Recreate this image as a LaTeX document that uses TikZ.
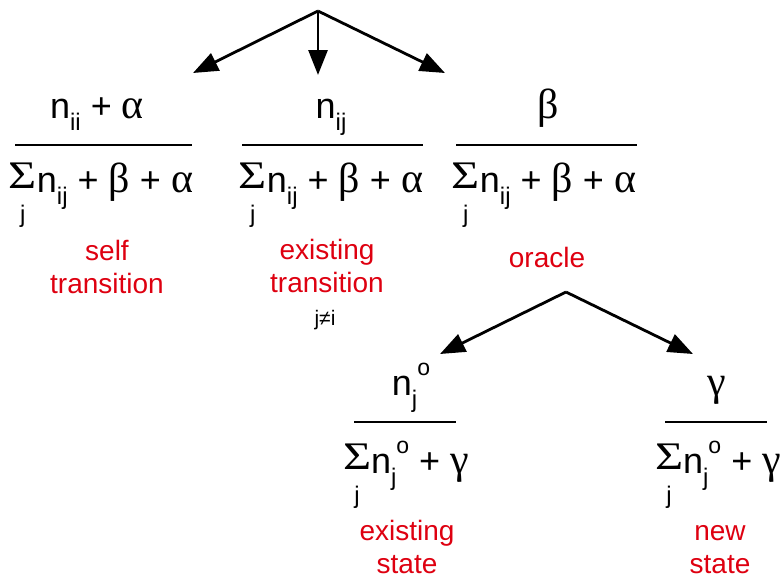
\documentclass[tikz,border=0pt]{standalone}
\usepackage{fontspec}
\setmainfont{Liberation Sans}
\newfontfamily\greekfont{Liberation Serif}
\usetikzlibrary{arrows.meta}
\definecolor{labelred}{RGB}{222,0,16}

\newcommand{\gk}[1]{{\greekfont\fontsize{42}{42}\selectfont #1}}
\newcommand{\sub}[1]{\raisebox{-0.36em}{\fontsize{24}{24}\selectfont #1}}
\newcommand{\osup}{\raisebox{0.55em}{\fontsize{23}{23}\selectfont o}}
\newcommand{\sumj}{\makebox[0pt][l]{\raisebox{-0.85em}{\makebox[0.66em][c]{\fontsize{24}{24}\selectfont j}}}%
  \raisebox{0.1em}{\makebox[0.66em][c]{\scalebox{1.15}[0.93]{\gk{Σ}}}}\kern0.06em}

\begin{document}
\begin{tikzpicture}[x=1pt, y=-1pt,
  branch/.style={line width=2.8pt, -{Triangle[length=25pt, width=19pt]}},
  fracbar/.style={line width=2.8pt},
  term/.style={anchor=base, inner sep=0pt, font=\fontsize{36}{40}\selectfont},
  lbl/.style={anchor=base, inner sep=0pt, text=labelred, align=center,
              font=\fontsize{28}{33}\selectfont},
  note/.style={anchor=base, inner sep=0pt, font=\fontsize{21}{21}\selectfont}]

\useasboundingbox (0,0) rectangle (781,579);

% Top branching point
\coordinate (top) at (318,11);
\coordinate (tipself) at (193,73);
\coordinate (tipexist) at (318,75);
\coordinate (tiporacle) at (445,73);

\draw[branch] (top) -- (tipself);
\draw[branch] (top) -- (tipexist);
\draw[branch] (top) -- (tiporacle);

% Self transition (base = last line)
\node[term] (numself) at (97,118) {n\sub{ii} + \gk{α}};
\draw[fracbar] (15,145) -- (192,145);
\node[term] (denself) at (102,192) {\sumj n\sub{ij} + \gk{β} + \gk{α}};
\node[lbl] (lblself) at (107,293) {self\\transition};

% Existing transition
\node[term] (numexist) at (331,118) {n\sub{ij}};
\draw[fracbar] (242,145) -- (423,145);
\node[term] (denexist) at (332,192) {\sumj n\sub{ij} + \gk{β} + \gk{α}};
\node[lbl] (lblexist) at (327,292) {existing\\transition};
\node[note] (neq) at (325,325) {j≠i};

% Oracle
\node[term] (numoracle) at (548,118) {\gk{β}};
\draw[fracbar] (456,145) -- (637,145);
\node[term] (denoracle) at (545,192) {\sumj n\sub{ij} + \gk{β} + \gk{α}};
\node[lbl] (lbloracle) at (547,267) {oracle};

% Oracle branching point
\coordinate (split) at (566,292);
\coordinate (tipold) at (440,354);
\coordinate (tipnew) at (693,354);

\draw[branch] (split) -- (tipold);
\draw[branch] (split) -- (tipnew);

% Existing state
\node[term] (numold) at (411,395) {n\sub{j}\osup};
\draw[fracbar] (354,422) -- (456,422);
\node[term] (denold) at (407,473) {\sumj n\sub{j}\osup{} + \gk{γ}};
\node[lbl] (lblold) at (407,573) {existing\\state};

% New state
\node[term] (numnew) at (717,395) {\gk{γ}};
\draw[fracbar] (665,422) -- (767,422);
\node[term] (dennew) at (719,473) {\sumj n\sub{j}\osup{} + \gk{γ}};
\node[lbl] (lblnew) at (720,573) {new\\state};

\end{tikzpicture}
\end{document}
